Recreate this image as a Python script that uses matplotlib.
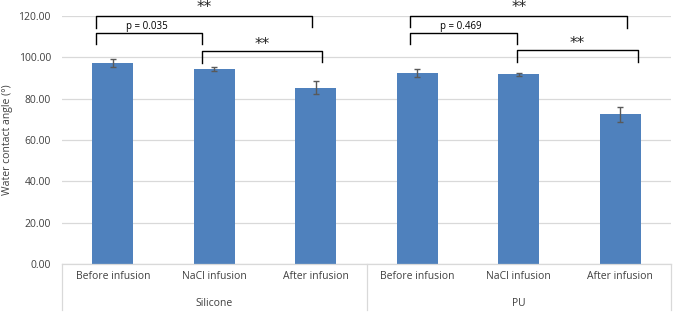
import matplotlib
matplotlib.use("Agg")
import matplotlib.pyplot as plt
import numpy as np
from matplotlib.ticker import FormatStrFormatter
from matplotlib.transforms import blended_transform_factory

categories = ["Before infusion", "NaCl infusion", "After infusion",
              "Before infusion", "NaCl infusion", "After infusion"]
groups = ["Silicone", "PU"]
values = [97.3, 94.4, 85.3, 92.6, 91.8, 72.4]
errors = [2.1, 1.0, 3.1, 1.9, 0.8, 3.5]
y_ticks = [0, 20, 40, 60, 80, 100, 120]

# significance annotations: (x_left, x_right, top, left_leg_end, right_leg_end, label)
brackets = [
    (-0.165, 1.963, 120.0, 114.3, 114.6, "**"),
    (-0.165, 0.88, 111.6, 106.3, 106.3, "p = 0.035"),
    (0.88, 2.06, 103.0, 97.4, 97.6, "**"),
    (2.93, 5.07, 120.0, 114.6, 114.3, "**"),
    (2.93, 3.98, 111.6, 106.3, 106.3, "p = 0.469"),
    (3.98, 5.17, 103.4, 97.8, 97.8, "**"),
]

font = ["Open Sans", "DejaVu Sans"]
plt.rcParams['font.family'] = font

fig = plt.figure(figsize=(6.75, 3.21), dpi=100)
ax = fig.add_axes([62/675, 1-264/321, (671-62)/675, (264-16)/321])

x = np.arange(len(values))
ax.bar(x, values, width=0.4, color="#4F81BD", zorder=3)
ax.errorbar(x, values, yerr=errors, fmt="none", ecolor="#595959",
            elinewidth=1.0, capsize=2.5, capthick=1.0, zorder=4)

ax.set_xlim(-0.5, 5.5)
ax.set_ylim(0, 120)
ax.set_yticks(y_ticks)
ax.yaxis.set_major_formatter(FormatStrFormatter("%.2f"))
ax.tick_params(axis="y", length=0, labelsize=7.5, labelcolor="#404040", pad=8)
ax.grid(axis="y", color="#d9d9d9", linewidth=0.9, zorder=0)
for s in ["top", "right", "left"]:
    ax.spines[s].set_visible(False)
ax.spines["bottom"].set_color("#d9d9d9")
ax.spines["bottom"].set_linewidth(0.9)
ax.spines["bottom"].set_zorder(5)

ax.set_xticks(x)
ax.set_xticklabels(categories)
ax.tick_params(axis="x", length=0, labelsize=7.5, labelcolor="#404040", pad=5)

ax.set_ylabel("Water contact angle (°)", fontsize=7.5, color="#404040")
ax.yaxis.set_label_coords(-0.081, 0.5)

trans = blended_transform_factory(ax.transData, ax.transAxes)
ylow = -(310-264)/248
for xs in [-0.5, 2.5, 5.5]:
    ax.plot([xs, xs], [0, ylow], transform=trans, color="#d9d9d9",
            linewidth=0.9, clip_on=False)
for gi, g in enumerate(groups):
    ax.text(1 + 3*gi, -(303-264)/248, g, transform=trans, ha="center",
            va="center", fontsize=7.5, color="#404040")

for (xl, xr, top, ll, rl, lab) in brackets:
    ax.plot([xl, xl, xr, xr], [ll, top, top, rl], color="black",
            linewidth=1.0, clip_on=False, zorder=6)
    if lab.startswith("p"):
        ax.text(xl + 0.5, top + 0.6, lab, ha="center", va="bottom",
                fontsize=7, color="black")
    else:
        off = 4.2 if top >= 119 else 3.4
        ax.text((xl + xr)/2, top + off, lab, ha="center", va="center",
                fontsize=11, color="#222222", family=["DejaVu Sans"])

fig.savefig("out.png", dpi=100)
